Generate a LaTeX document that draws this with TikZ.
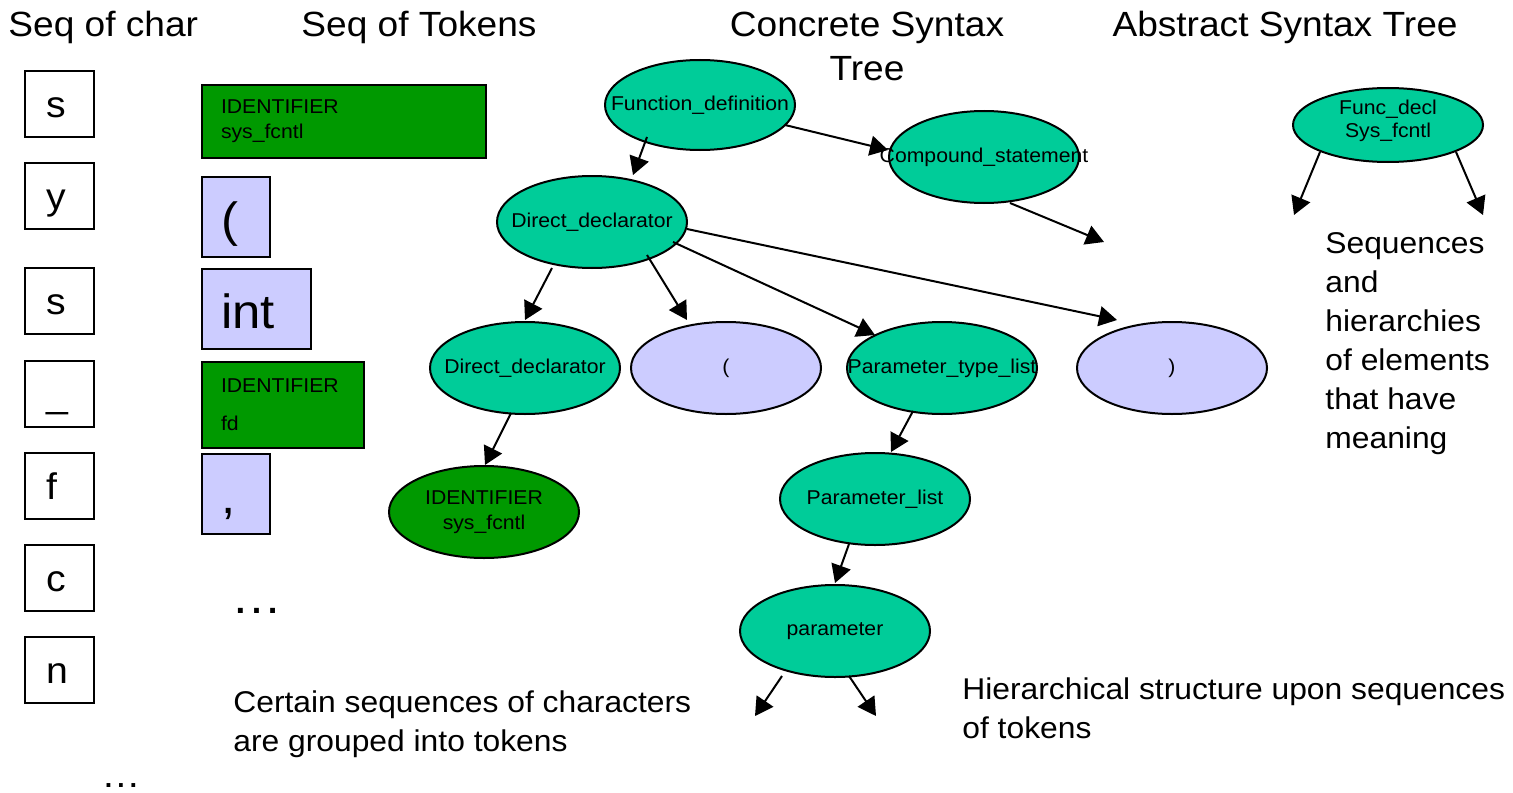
\documentclass[tikz,border=0pt]{standalone}
\usepackage{fontspec}
\setmainfont{Liberation Sans}[FakeStretch=1.06]
\usetikzlibrary{shapes.geometric,arrows.meta,calc}
\definecolor{tealfill}{HTML}{00CC99}
\definecolor{dkgreen}{HTML}{009900}
\definecolor{lav}{HTML}{CCCCFF}
\begin{document}
\begin{tikzpicture}[x=0.5pt,y=-0.5pt,
  title/.style={font=\fontsize{17.5}{22}\selectfont, inner sep=0pt, text depth=0pt},
  body/.style={font=\fontsize{15}{19.5}\selectfont, inner sep=0pt, align=left, text depth=0pt, anchor=south west},
  charbox/.style={draw, line width=1pt, text width=13.5pt, inner xsep=10.5pt, inner ysep=0pt, minimum height=33pt, align=left, font=\fontsize{18.5}{20}\selectfont, text height=13.5pt, text depth=0pt},
  tok/.style={draw, line width=1pt, anchor=north west, inner xsep=9.5pt, inner ysep=0pt, align=left},
  tokbig/.style={tok, fill=lav, font=\fontsize{24}{28}\selectfont, text height=19.5pt, text depth=0pt, minimum height=40pt},
  tokid/.style={tok, fill=dkgreen, font=\fontsize{10}{12.5}\selectfont},
  tn/.style={ellipse, draw, line width=1pt, fill=tealfill, minimum width=95pt, minimum height=46pt, inner sep=0pt, font=\fontsize{10}{12.5}\selectfont, align=center},
  tnl/.style={tn, fill=lav},
  tng/.style={tn, fill=dkgreen},
  arr/.style={line width=1pt, -{Triangle[length=9pt,width=10pt]}}
]
\useasboundingbox (0,0) rectangle (1513,792);

% titles
\node[title, anchor=base west] (tchar) at (8,37) {Seq of char};
\node[title, anchor=base west] (ttok) at (301,37) {Seq of Tokens};
\node[title, anchor=south, align=center] (tcst) at (867,81) {Concrete Syntax\\Tree};
\node[title, anchor=base] (tast) at (1285,37) {Abstract Syntax Tree};

% characters
\node[charbox] (c1) at (59.5,104) {s};
\node[charbox] (c2) at (59.5,196) {y};
\node[charbox] (c3) at (59.5,301) {s};
\node[charbox] (c4) at (59.5,393.5) {\_};
\node[charbox] (c5) at (59.5,486) {f};
\node[charbox] (c6) at (59.5,577.5) {c};
\node[charbox] (c7) at (59.5,670) {n};
\node[title, anchor=base west, font=\fontsize{18.5}{20}\selectfont] (cdots) at (101,787) {…};

% tokens
\node[tokid, text width=123pt, minimum height=36.5pt] (k1) at (201,84) {IDENTIFIER\\sys\_fcntl};
\node[tokbig, text width=15pt] (k2) at (201,176) {(};
\node[tokbig, text width=35.5pt] (k3) at (201,268) {int};
\node[tokid, text width=62pt, minimum height=43pt, font=\fontsize{10}{19}\selectfont] (k4) at (201,361) {IDENTIFIER\\fd};
\node[tokbig, text width=15pt] (k5) at (201,453) {,};
\node[title, anchor=base west, font=\fontsize{24}{28}\selectfont] (kdots) at (231,613) {…};

% concrete syntax tree
\node[tn, minimum height=45pt] (fd) at (700,105) {\makebox[0pt]{Function\_definition}};
\node[tn] (cs) at (984,157) {\makebox[0pt]{Compound\_statement}};
\node[tn] (dd1) at (592,222) {\makebox[0pt]{Direct\_declarator}};
\node[tn] (dd2) at (525,368) {\makebox[0pt]{Direct\_declarator}};
\node[tnl] (lp) at (726,368) {(};
\node[tn] (ptl) at (942,368) {\makebox[0pt]{Parameter\_type\_list}};
\node[tnl] (rp) at (1172,368) {)};
\node[tng] (idn) at (484,512) {IDENTIFIER\\sys\_fcntl};
\node[tn] (pl) at (875,499) {\makebox[0pt]{Parameter\_list}};
\node[tn] (pa) at (835,631) {\makebox[0pt]{parameter}};

% abstract syntax tree
\node[tn, minimum height=37pt,
  label={[font=\fontsize{10}{11.5}\selectfont, align=center, yshift=2pt]center:Func\_decl\\Sys\_fcntl}] (ast) at (1388,125) {};

% free ends
\coordinate (csx) at (1104,242);
\coordinate (pax1) at (755,716);
\coordinate (pax2) at (876,716);
\coordinate (astx1) at (1294,215);
\coordinate (astx2) at (1483,215);

% connectors
\draw[arr] ($(fd)+(-53,32)$) -- ($(dd1)+(41,-47)$);
\draw[arr] ($(fd)+(85,20)$) -- ($(cs)+(-96,-7)$);
\draw[arr] ($(cs)+(26,46)$) -- (csx);
\draw[arr] ($(dd1)+(-40,46)$) -- ($(dd2)+(0,-48)$);
\draw[arr] ($(dd1)+(55,33)$) -- ($(lp)+(-39,-48)$);
\draw[arr] ($(dd1)+(81,20)$) -- ($(ptl)+(-67,-33)$);
\draw[arr] ($(dd1)+(95,7)$) -- ($(rp)+(-55,-48)$);
\draw[arr] ($(dd2)+(-14,45)$) -- ($(idn)+(1,-47)$);
\draw[arr] ($(ptl)+(-29,43)$) -- ($(pl)+(16,-47)$);
\draw[arr] ($(pl)+(-26,45)$) -- ($(pa)+(0,-48)$);
\draw[arr] ($(pa)+(-53,45)$) -- (pax1);
\draw[arr] ($(pa)+(14,45)$) -- (pax2);
\draw[arr] ($(ast)+(-68,27)$) -- (astx1);
\draw[arr] ($(ast)+(68,27)$) -- (astx2);

% explanatory texts
\node[body] (b1) at (233,752) {Certain sequences of characters\\are grouped into tokens};
\node[body] (b2) at (962,739) {Hierarchical structure upon sequences\\of tokens};
\node[body] (b3) at (1325,449) {Sequences\\and\\hierarchies\\of elements\\that have\\meaning};
\end{tikzpicture}
\end{document}
